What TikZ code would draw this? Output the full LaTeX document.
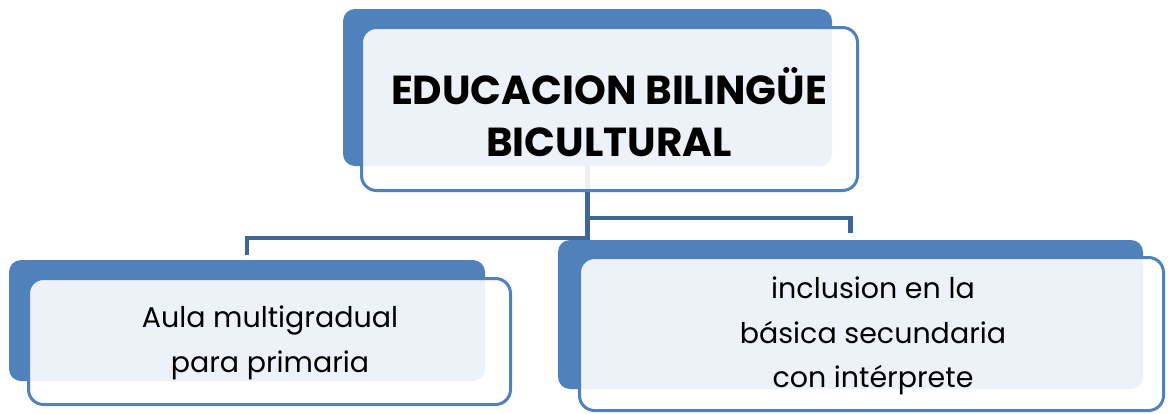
\documentclass[tikz,border=0pt]{standalone}
\usepackage{fontspec}
\setmainfont{Poppins}
\definecolor{accent}{HTML}{4F81BD}
\definecolor{connc}{HTML}{3E6796}
\tikzset{
  backbox/.style={fill=accent, rounded corners=12pt, inner sep=0pt},
  frontbox/.style={draw=accent, line width=3pt, fill=white, fill opacity=0.9, text opacity=1,
    rounded corners=15pt, align=center, inner sep=0pt},
  connector/.style={draw=connc, line width=4.5pt},
  toptext/.style={font=\fontsize{40.5}{52}\selectfont\bfseries},
  subtext/.style={font=\fontsize{28.5}{44.5}\selectfont},
}
\begin{document}
\begin{tikzpicture}[x=1pt,y=-1pt]
\useasboundingbox (0,0) rectangle (1168,413);
% back boxes
\node[backbox, minimum width=489pt, minimum height=157pt] (topback) at (587.5,87.5) {};
\node[backbox, minimum width=476pt, minimum height=121pt] (leftback) at (247,320.5) {};
\node[backbox, minimum width=585pt, minimum height=149pt] (rightback) at (850.5,314.5) {};
% connectors
\coordinate (jr) at (587.5,218);
\coordinate (jl) at (587.5,238);
\draw[connector] (topback.south) -- (jr) -| ([yshift=7pt]rightback.north);
\draw[connector] (jr) -- (jl) -| ([yshift=5pt]leftback.north);
% front boxes
\node[frontbox, minimum width=496pt, minimum height=163pt] (top) at (609.5,109) {};
\node[toptext, align=center] (toplabel) at (609,112) {EDUCACION BILINGÜE\\BICULTURAL};
\node[frontbox, minimum width=482pt, minimum height=126pt] (left) at (269.5,341.5) {};
\node[subtext, align=center] (leftlabel) at (270,343) {Aula multigradual\\para primaria};
\node[frontbox, minimum width=584pt, minimum height=153pt] (right) at (871.5,334) {};
\node[subtext, align=center] (rightlabel) at (873,336) {inclusion en la\\básica secundaria\\con intérprete};
\end{tikzpicture}
\end{document}
